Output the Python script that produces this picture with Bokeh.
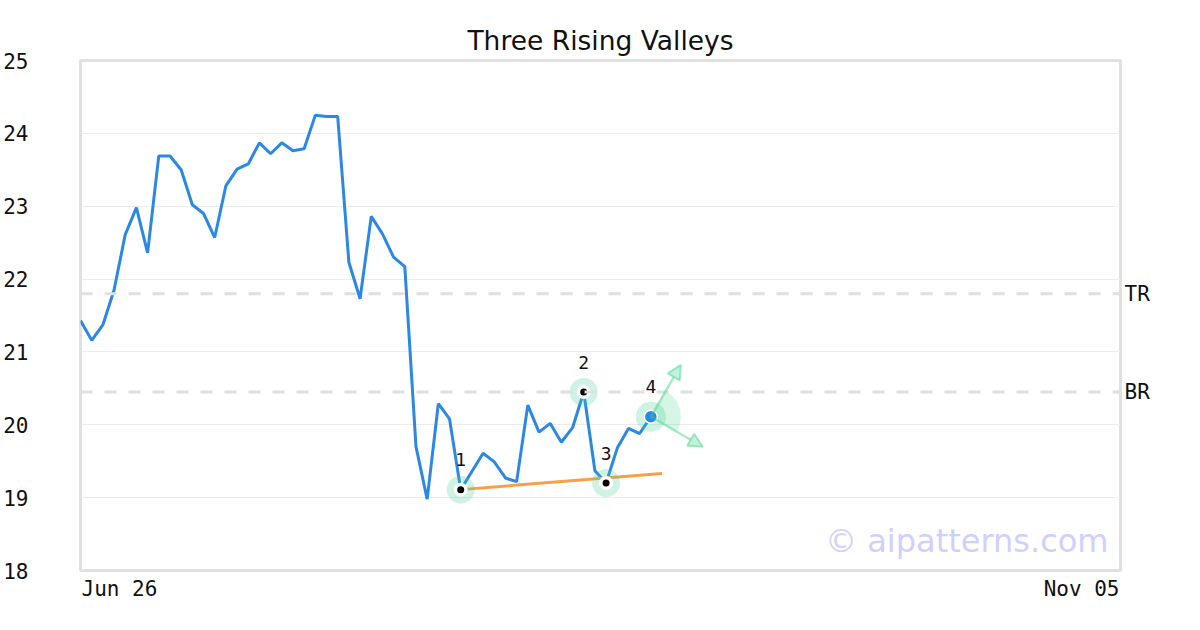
import math
from bokeh.plotting import figure
from bokeh.models import (Label, LabelSet, ColumnDataSource, Span, Arrow, NormalHead,
                          FixedTicker, LinearAxis, CustomJSTickFormatter)
from bokeh.core.properties import value
from bokeh.embed import file_html
from bokeh.resources import INLINE

# ---------------- data ----------------
title = "Three Rising Valleys"
x_labels = ["Jun 26", "Nov 05"]
x_max = 93  # index of last date on the axis
y_ticks = [18, 19, 20, 21, 22, 23, 24, 25]

prices = [21.43, 21.16, 21.37, 21.85, 22.61, 22.98, 22.36, 23.69, 23.69, 23.50,
          23.02, 22.90, 22.57, 23.28, 23.51, 23.58, 23.87, 23.72, 23.87, 23.76,
          23.79, 24.25, 24.23, 24.23, 22.23, 21.73, 22.86, 22.62, 22.30, 22.17,
          19.70, 18.98, 20.29, 20.08, 19.11, 19.36, 19.61, 19.49, 19.27, 19.22,
          20.27, 19.90, 20.02, 19.76, 19.96, 20.45, 19.37, 19.20, 19.68, 19.95,
          19.88, 20.11]

pivot_idx = [34, 45, 47]
pivot_names = ["1", "2", "3"]
signal_idx = 51
signal_name = "4"

trend_x = [34, 52]
trend_y = [19.11, 19.33]

level_names = ["TR", "BR"]
level_values = [21.80, 20.45]

watermark = "© aipatterns.com"

# ---------------- layout ----------------
W, H = 1200, 630
ML, MR, MT, MB = 80, 80, 60, 60
frame_w = W - ML - MR
frame_h = H - MT - MB
y_min, y_max = y_ticks[0], y_ticks[-1]
px_x = frame_w / x_max
px_y = frame_h / (y_max - y_min)

MONO = "DejaVu Sans Mono"
SANS = "DejaVu Sans"
BLUE = "#2b88e6"
GREEN = "#3fd08a"
ORANGE = "#f7a04a"
TXT = "#111111"
FS = 21  # tick font size in px

p = figure(width=W, height=H, x_range=(0, x_max), y_range=(y_min, y_max),
           output_backend="svg", toolbar_location=None,
           min_border_left=ML, min_border_right=MR, min_border_top=MT, min_border_bottom=MB)

p.outline_line_color = "#e0e0e0"
p.outline_line_width = 3
p.background_fill_color = "white"
p.border_fill_color = "white"

p.title.text = title
p.title.align = "center"
p.title.text_font = SANS
p.title.text_font_size = "26.5px"
p.title.text_font_style = "normal"
p.title.text_color = TXT

p.xgrid.visible = False
p.ygrid.grid_line_color = "#ececec"
p.ygrid.grid_line_width = 1

# y axis
ya = p.yaxis[0]
ya.ticker = FixedTicker(ticks=y_ticks)
ya.axis_line_color = None
ya.major_tick_line_color = None
ya.minor_tick_line_color = None
ya.major_label_standoff = 46
ya.major_label_text_font = MONO
ya.major_label_text_font_size = f"{FS}px"
ya.major_label_text_color = TXT

# x axis: first and last date, aligned to the frame edges
half_label = len(x_labels[0]) * 0.602 * FS / 2
xa = p.xaxis[0]
xa.ticker = FixedTicker(ticks=[(half_label + 1) / px_x, x_max - (half_label + 1) / px_x])
xa.formatter = CustomJSTickFormatter(args=dict(labels=x_labels, mid=x_max / 2),
                                     code="return tick < mid ? labels[0] : labels[1];")
xa.axis_line_color = None
xa.major_tick_line_color = None
xa.minor_tick_line_color = None
xa.major_tick_out = 0
xa.major_label_standoff = 6
xa.major_label_text_font = MONO
xa.major_label_text_font_size = f"{FS}px"
xa.major_label_text_color = TXT

# level lines with names on the right
for val in level_values:
    p.add_layout(Span(location=val, dimension="width", line_color="#e0e0e0",
                      line_width=3, line_dash="12 12"))
ra = LinearAxis(ticker=FixedTicker(ticks=level_values),
                formatter=CustomJSTickFormatter(args=dict(names=level_names, vals=level_values),
                                                code="""
let best = 0;
for (let i = 0; i < vals.length; i++) {
  if (Math.abs(vals[i] - tick) < Math.abs(vals[best] - tick)) best = i;
}
return names[best];"""))
ra.axis_line_color = None
ra.major_tick_line_color = None
ra.minor_tick_line_color = None
ra.major_tick_out = 0
ra.major_label_standoff = 4
ra.major_label_text_font = MONO
ra.major_label_text_font_size = f"{FS}px"
ra.major_label_text_color = TXT
p.add_layout(ra, "right")

# watermark
p.add_layout(Label(x=x_max, y=y_min, text=watermark, text_align="right", text_baseline="alphabetic",
                   x_offset=-12, y_offset=30, text_font=SANS, text_font_size="32px",
                   text_color="#d0d0ff"))

# price line
xs = list(range(len(prices)))
p.line(xs, prices, line_color=BLUE, line_width=3)

# trend line
p.line(trend_x, trend_y, line_color=ORANGE, line_width=3)

# pivot markers
py = [prices[i] for i in pivot_idx]
p.scatter(pivot_idx, py, size=28, fill_color=GREEN, fill_alpha=0.25, line_color=None)
p.scatter(pivot_idx, py, size=14, fill_color="white", line_color=None)
p.scatter(pivot_idx, py, size=7, fill_color="black", line_color=None)

# signal point with projection wedge and arrows
sx, sy = signal_idx, prices[signal_idx]
p.wedge(x=[sx], y=[sy], radius=30, radius_units="screen",
        start_angle=math.radians(-30), end_angle=math.radians(60),
        fill_color=GREEN, fill_alpha=0.22, line_color=None)
p.scatter([sx], [sy], size=30, fill_color=GREEN, fill_alpha=0.25, line_color=None)
p.scatter([sx], [sy], size=13, fill_color=BLUE, line_color="white", line_width=1.5)

arrow_len = 60
for ang in (60, -30):
    ex = sx + arrow_len * math.cos(math.radians(ang)) / px_x
    ey = sy + arrow_len * math.sin(math.radians(ang)) / px_y
    p.add_layout(Arrow(end=NormalHead(size=14, fill_color=GREEN, fill_alpha=0.3,
                                      line_color=GREEN, line_alpha=0.45, line_width=2),
                       x_start=sx, y_start=sy, x_end=ex, y_end=ey,
                       line_color=GREEN, line_alpha=0.45, line_width=2.5))

# number labels
lab_src = ColumnDataSource(dict(x=pivot_idx + [signal_idx],
                                y=py + [sy],
                                t=pivot_names + [signal_name]))
p.add_layout(LabelSet(x="x", y="y", text="t", source=lab_src, text_align="center",
                      text_baseline="middle", y_offset=30, text_font=value(MONO),
                      text_font_size=value("18px"), text_color=value(TXT)))

open("out.html", "w").write(file_html(p, INLINE))
